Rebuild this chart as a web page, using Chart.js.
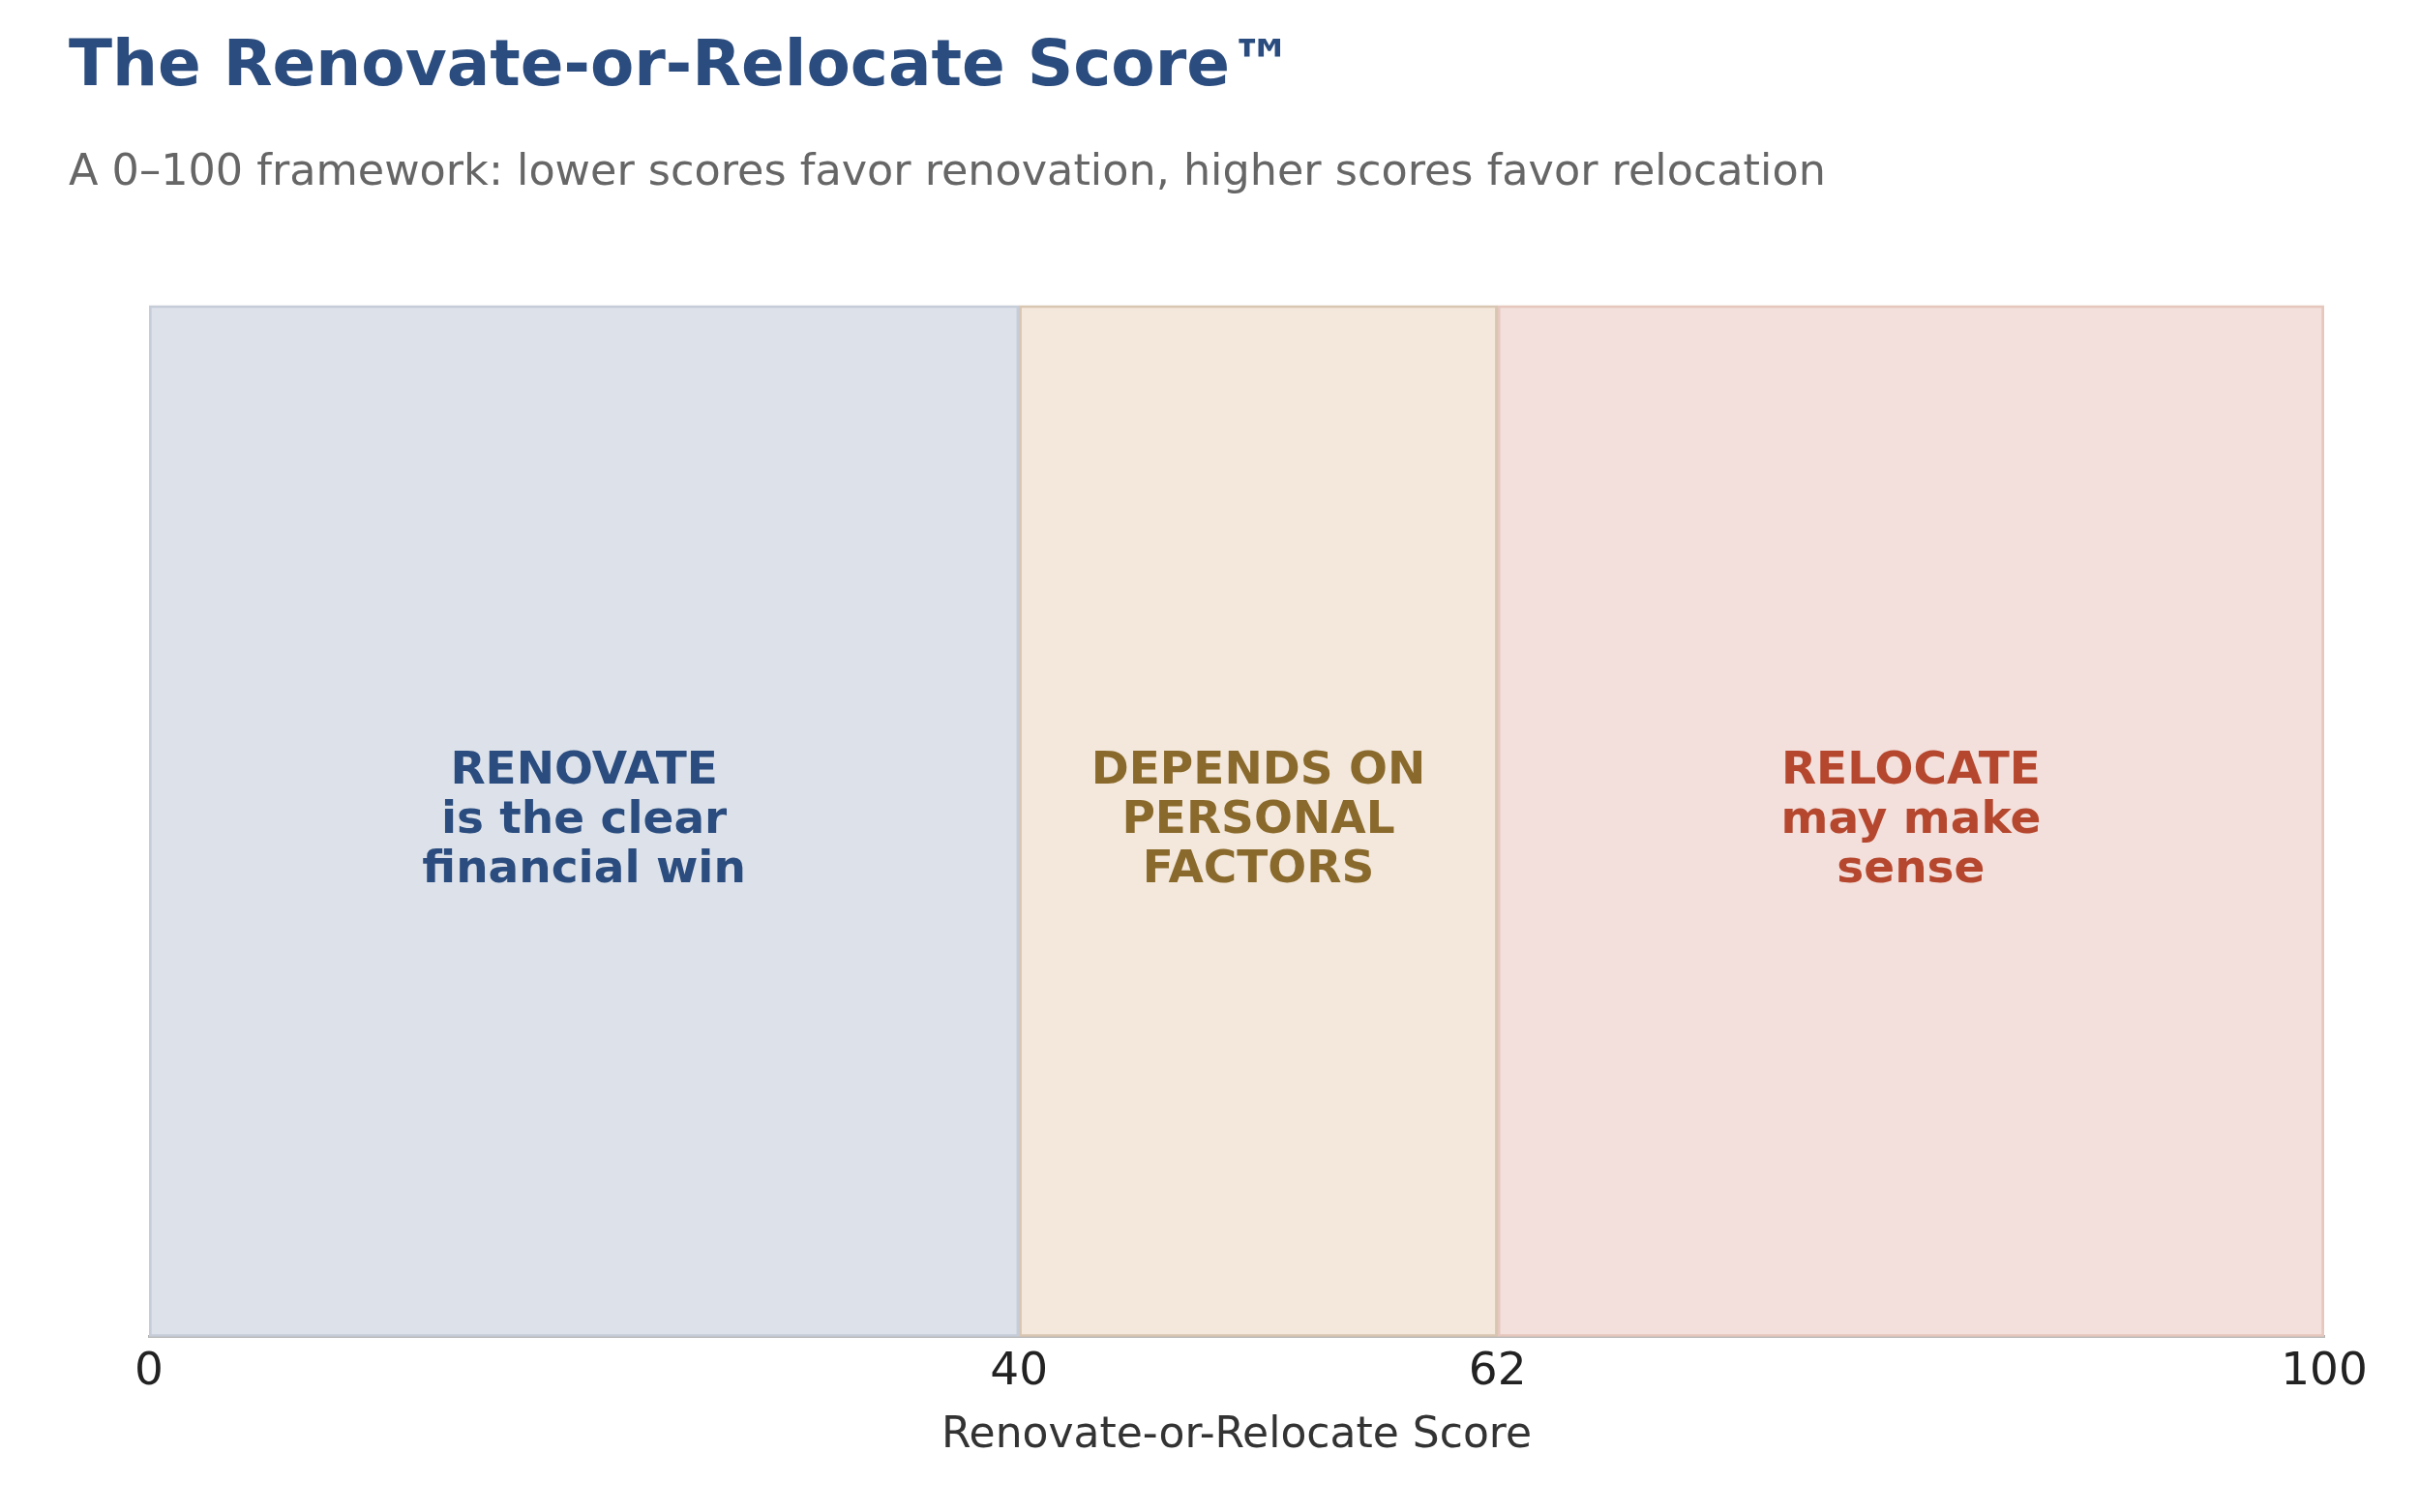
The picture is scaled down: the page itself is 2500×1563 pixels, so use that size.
<!DOCTYPE html>
<html>
<head>
<meta charset="utf-8">
<script src="https://cdn.jsdelivr.net/npm/chart.js@4/dist/chart.umd.min.js"></script>
<style>
  html, body { margin: 0; padding: 0; background: #ffffff; }
  #wrap { width: 2500px; height: 1563px; }
</style>
</head>
<body>
<div id="wrap"><canvas id="chart"></canvas></div>
<script>
// zones of the score
const zoneNames = ['Renovate', 'Depends', 'Relocate'];
const zoneStart = [0, 40, 62];
const zoneEnd = [40, 62, 100];
const zoneLabels = [
    ['RENOVATE', 'is the clear', 'financial win'],
    ['DEPENDS ON', 'PERSONAL', 'FACTORS'],
    ['RELOCATE', 'may make', 'sense'],
];
const tickValues = [0, 40, 62, 100];

const zoneFill = ['#dde2ea', '#f4e8dc', '#f3dfdb'];
const zoneBorder = ['#c6ccd8', '#d9c6b2', '#e6c7be'];
const zoneText = ['#2b4c7e', '#8a6a2c', '#b5472e'];

const FONT = '"DejaVu Sans", sans-serif';

// draws the text inside each zone
const zoneLabelPlugin = {
    id: 'zoneLabels',
    afterDatasetsDraw(chart) {
        const ctx = chart.ctx;
        ctx.save();
        ctx.font = 'bold 47px ' + FONT;
        ctx.textAlign = 'center';
        ctx.textBaseline = 'middle';
        chart.data.datasets.forEach((ds, i) => {
            const bar = chart.getDatasetMeta(i).data[0];
            const cx = (bar.x + bar.base) / 2;
            const lines = zoneLabels[i];
            const lh = 51;
            const top = bar.y - (lines.length - 1) * lh / 2;
            ctx.fillStyle = zoneText[i];
            lines.forEach((t, j) => ctx.fillText(t, cx, top + j * lh));
        });
        ctx.restore();
    }
};

const datasets = zoneNames.map((name, i) => ({
    label: name,
    data: [[zoneStart[i], zoneEnd[i]]],
    backgroundColor: zoneFill[i],
    borderColor: zoneBorder[i],
    borderWidth: 3,
    borderSkipped: false,
    grouped: false,
    barPercentage: 1,
    categoryPercentage: 1,
}));

new Chart(document.getElementById('chart'), {
    type: 'bar',
    data: { labels: ['score'], datasets: datasets },
    options: {
        indexAxis: 'y',
        responsive: true,
        maintainAspectRatio: false,
        animation: false,
        layout: { padding: { left: 71, right: 98, top: 0, bottom: 52 } },
        plugins: {
            legend: { display: false },
            tooltip: { enabled: false },
            title: {
                display: true,
                text: 'The Renovate-or-Relocate Score™',
                align: 'start',
                color: '#2b4c7e',
                font: { family: FONT, size: 66, weight: 'bold' },
                padding: { top: 31, bottom: 0 },
            },
            subtitle: {
                display: true,
                text: 'A 0–100 framework: lower scores favor renovation, higher scores favor relocation',
                align: 'start',
                color: '#666666',
                font: { family: FONT, size: 44.5 },
                padding: { top: 43, bottom: 109 },
            },
        },
        scales: {
            x: {
                type: 'linear',
                min: 0,
                max: 100,
                afterBuildTicks: (scale) => { scale.ticks = tickValues.map(v => ({ value: v })); },
                grid: { display: false, drawTicks: false },
                border: { display: true, color: '#b4b4b4', width: 3 },
                ticks: {
                    color: '#222222',
                    font: { family: FONT, size: 47 },
                    padding: 9,
                    maxRotation: 0,
                    autoSkip: false,
                },
                title: {
                    display: true,
                    text: 'Renovate-or-Relocate Score',
                    color: '#333333',
                    font: { family: FONT, size: 44 },
                    padding: { top: 2, bottom: 0 },
                },
            },
            y: {
                display: true,
                afterFit: (scale) => { scale.width = 83; },
                grid: { display: false },
                border: { display: false },
                ticks: { display: false },
            },
        },
    },
    plugins: [zoneLabelPlugin],
});
</script>
</body>
</html>
